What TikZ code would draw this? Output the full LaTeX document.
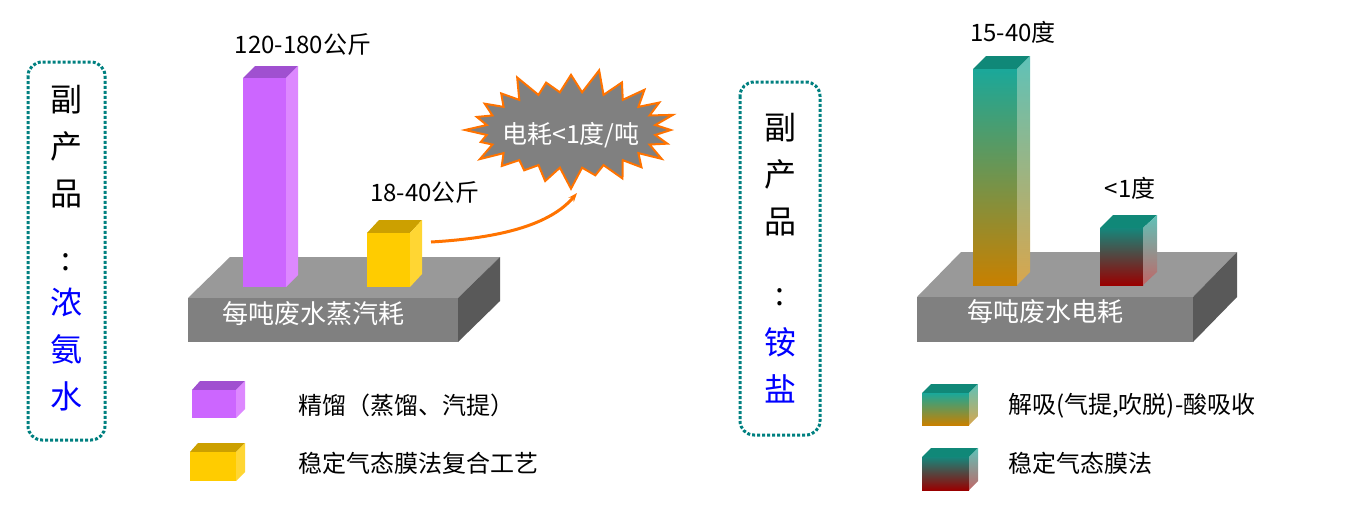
\documentclass[tikz,border=0pt]{standalone}
\usepackage{fontspec}
\setmainfont{Liberation Serif}
\newfontfamily\cjk{Noto Sans CJK SC}
\usetikzlibrary{shapes.symbols,arrows.meta}
\definecolor{pur}{HTML}{CC66FF}
\definecolor{purT}{HTML}{A050D0}
\definecolor{purS}{HTML}{DD88FF}
\definecolor{yel}{HTML}{FFCC00}
\definecolor{yelT}{HTML}{CCA000}
\definecolor{yelS}{HTML}{FFD633}
\definecolor{tealA}{HTML}{1AA89A}
\definecolor{tealT}{HTML}{108878}
\definecolor{ochre}{HTML}{C88000}
\definecolor{dred}{HTML}{990000}
\definecolor{dots}{HTML}{008080}
\tikzset{
 lbl/.style={font=\cjk\fontsize{24}{26}\selectfont, inner sep=0pt},
 big/.style={font=\cjk\fontsize{32}{47}\selectfont, align=center, inner sep=0pt},
 base/.style={font=\cjk\fontsize{26}{28}\selectfont, text=white, inner sep=0pt},
 dotbox/.style={draw=dots, line width=3pt, dotted, rounded corners=14pt}
}
\newcommand{\platform}[7]{% x1 x2 ytop back-dx back-dy ybottom
 \fill[gray!80!white] (#1,#3) -- (#1+#4,#3-#5) -- (#2+#4,#3-#5) -- (#2,#3) -- cycle;
 \fill[gray] (#1,#3) rectangle (#2,#6);
 \fill[gray!70!black] (#2,#3) -- (#2+#4,#3-#5) -- (#2+#4,#6-#5) -- (#2,#6) -- cycle;
}
\begin{document}
\begin{tikzpicture}[x=1pt,y=-1pt]
\useasboundingbox (0,0) rectangle (1349,509);
% left platform
\platform{188}{458}{298}{42}{41}{342}{}
% purple bar
\fill[purT] (243,78) -- (255,66) -- (298,66) -- (286,78) -- cycle;
\fill[pur] (243,78) rectangle (286,287);
\fill[purS] (286,78) -- (298,66) -- (298,275) -- (286,287) -- cycle;
% yellow bar
\fill[yelT] (367,233) -- (379,220) -- (422,220) -- (410,233) -- cycle;
\fill[yel] (367,233) rectangle (410,287);
\fill[yelS] (410,233) -- (422,220) -- (422,274) -- (410,287) -- cycle;
\node[base] (b1) at (313,314) {每吨废水蒸汽耗};
\node[lbl] (t1) at (303,45) {120-180公斤};
\node[lbl] (t2) at (425,193) {18-40公斤};
% starburst
\node[starburst, starburst points=24, starburst point height=24pt, fill=gray, draw=orange!90!red, line width=2pt, minimum width=218pt, minimum height=124pt, inner sep=0pt] (star) at (571,130) {};
\node[font=\cjk\fontsize{25}{28}\selectfont, text=white] (st) at (571,135) {电耗<1度/吨};
\coordinate (a0) at (431,242);
\coordinate (a1) at (577,193);
\draw[-{Stealth[length=9pt]}, orange!90!red, line width=3pt] (a0) .. controls (500,238) and (550,225) .. (a1);
% right platform
\platform{917}{1193}{297}{44}{45}{342}{}
\fill[tealT] (973,69) -- (986,56) -- (1030,56) -- (1017,69) -- cycle;
\shade[top color=tealA, bottom color=ochre] (973,69) rectangle (1017,285);
\shade[top color=tealA!70!white, bottom color=ochre!70!white] (1017,69) -- (1030,56) -- (1030,272) -- (1017,285) -- cycle;
\fill[tealT] (1100,228) -- (1113,215) -- (1157,215) -- (1143,228) -- cycle;
\shade[top color=tealA!80!black, bottom color=dred] (1100,228) rectangle (1143,285);
\shade[top color=tealA!70!white, bottom color=dred!60!white] (1143,228) -- (1157,215) -- (1157,272) -- (1143,285) -- cycle;
\node[base] (b2) at (1045,312) {每吨废水电耗};
\node[lbl] (t3) at (1013,32) {15-40度};
\node[lbl] (t4) at (1130,188) {<1度};
% side boxes
\draw[dotbox] (28,62) rectangle (105,440);
\node[big] (s1) at (66,147) {副\\产\\品};
\node[big] (c1) at (66,262) {:};
\node[big, text=blue] (s2) at (66,350) {浓\\氨\\水};
\draw[dotbox] (740,82) rectangle (820,435);
\node[big] (s3) at (780,175) {副\\产\\品};
\node[big] (c2) at (780,297) {:};
\node[big, text=blue] (s4) at (780,365) {铵\\盐};
% legends
\fill[purT] (192,390) -- (200,381) -- (245,381) -- (236,390) -- cycle;
\fill[pur] (192,390) rectangle (236,418);
\fill[purS] (236,390) -- (245,381) -- (245,409) -- (236,418) -- cycle;
\fill[yelT] (190,452) -- (198,443) -- (245,443) -- (236,452) -- cycle;
\fill[yel] (190,452) rectangle (236,481);
\fill[yelS] (236,452) -- (245,443) -- (245,472) -- (236,481) -- cycle;
\node[lbl, anchor=west] (l1) at (298,405) {精馏（蒸馏、汽提）};
\node[lbl, anchor=west] (l2) at (298,463) {稳定气态膜法复合工艺};
\fill[tealT] (922,393) -- (931,384) -- (978,384) -- (969,393) -- cycle;
\shade[top color=tealA, bottom color=ochre] (922,393) rectangle (969,425);
\shade[top color=tealA!70!white, bottom color=ochre!70!white] (969,393) -- (978,384) -- (978,416) -- (969,425) -- cycle;
\fill[tealT] (922,457) -- (931,448) -- (978,448) -- (969,457) -- cycle;
\shade[top color=tealA!80!black, bottom color=dred] (922,457) rectangle (969,490);
\shade[top color=tealA!70!white, bottom color=dred!60!white] (969,457) -- (978,448) -- (978,481) -- (969,490) -- cycle;
\node[lbl, anchor=west] (l3) at (1008,406) {解吸(气提,吹脱)-酸吸收};
\node[lbl, anchor=west] (l4) at (1008,463) {稳定气态膜法};
\end{tikzpicture}
\end{document}
